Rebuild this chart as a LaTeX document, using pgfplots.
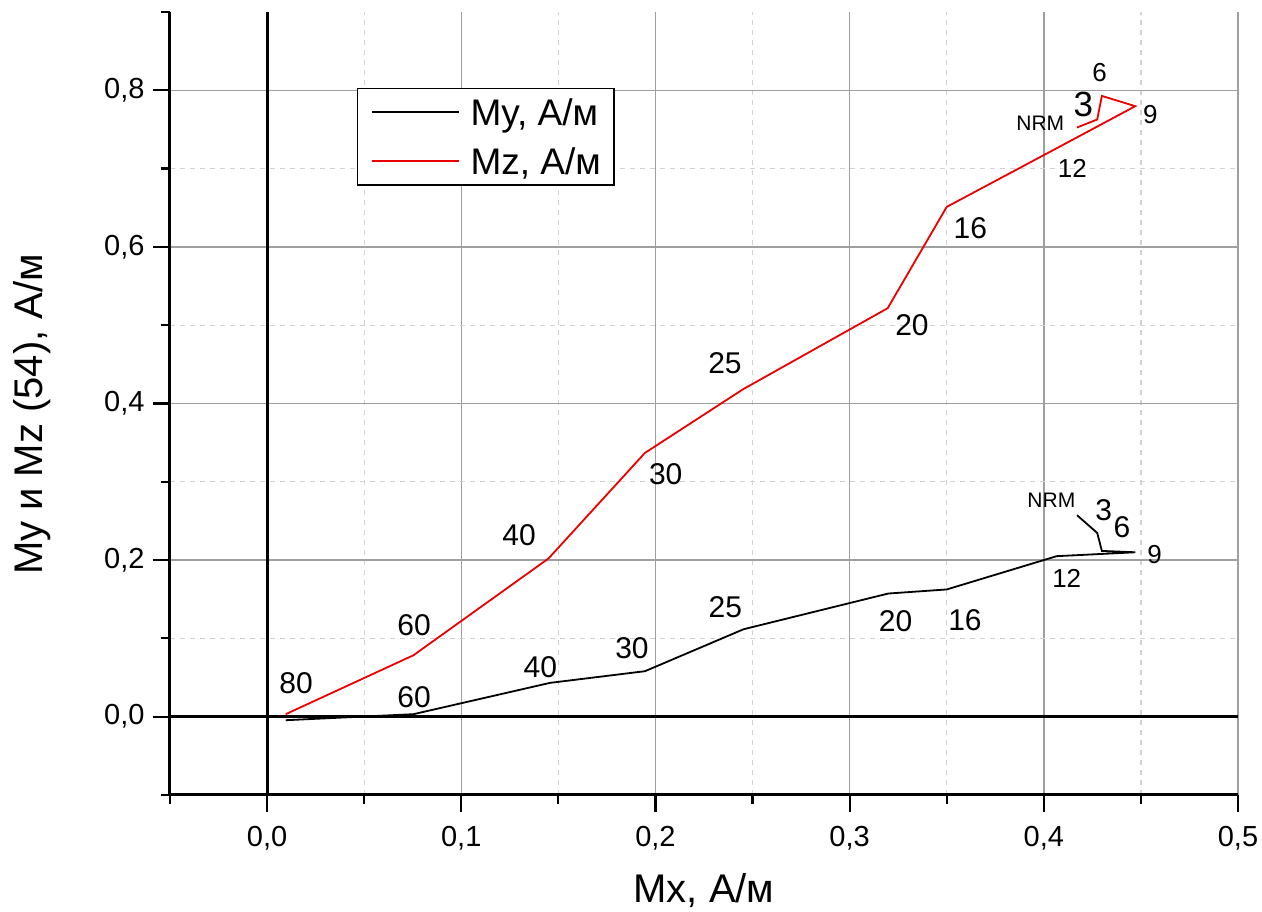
\documentclass[border=0pt]{standalone}
\usepackage{fontspec}
\setmainfont{Liberation Sans}
\usepackage{pgfplots}
\pgfplotsset{compat=1.18}
\newcommand{\Lf}{\fontsize{15}{18}\selectfont}
\newcommand{\XLf}{\fontsize{17.5}{20}\selectfont}
\newcommand{\Mf}{\fontsize{13}{16}\selectfont}
\newcommand{\Sf}{\fontsize{10.5}{13}\selectfont}
\newcommand{\tickf}{\fontsize{14.5}{17}\selectfont}
\newcommand{\labf}{\fontsize{20}{24}\selectfont}
\newcommand{\legf}{\fontsize{18.5}{22}\selectfont}
\definecolor{mzred}{RGB}{235,0,0}

\pgfplotstableread{
x y
0.4171 0.2573
0.4275 0.2347
0.4299 0.2117
0.4471 0.2100
0.4066 0.2050
0.3500 0.1625
0.3199 0.1573
0.2454 0.1117
0.1946 0.0581
0.1457 0.0432
0.0754 0.0032
0.0096 -0.0045
}\datamy

\pgfplotstableread{
x y
0.4171 0.7525
0.4275 0.7627
0.4299 0.7928
0.4471 0.7797
0.4080 0.7278
0.3500 0.6511
0.3196 0.5217
0.2452 0.4183
0.1946 0.3369
0.1449 0.2020
0.0754 0.0785
0.0096 0.0032
}\datamz

\begin{document}
\begin{tikzpicture}
\begin{axis}[
  scale only axis, width=534pt, height=391.5pt,
  xmin=-0.05, xmax=0.5, ymin=-0.1, ymax=0.9,
  clip=false,
  axis x line*=bottom, axis y line*=left,
  axis line style={line width=1.5pt, -},
  tick pos=left,
  tick align=outside,
  major tick length=8.5pt, minor tick length=4.5pt,
  tick style={black, line width=1.1pt},
  xtick={0,0.1,0.2,0.3,0.4,0.5},
  minor xtick={-0.05,0.05,0.15,0.25,0.35,0.45},
  ytick={0,0.2,0.4,0.6,0.8},
  minor ytick={-0.1,0.1,0.3,0.5,0.7},
  extra y ticks={0.9}, extra y tick labels={},
  extra y tick style={grid=none, major tick length=4.5pt},
  grid=both,
  major grid style={gray!75, line width=0.7pt},
  minor grid style={gray!35, line width=0.6pt, dash pattern=on 2.5pt off 2.5pt},
  /pgf/number format/fixed,
  /pgf/number format/fixed zerofill,
  /pgf/number format/precision=1,
  /pgf/number format/use comma,
  /pgf/number format/assume math mode=true,
  tick label style={font=\tickf},
  xticklabel style={yshift=-3.7pt},
  yticklabel style={xshift=-0.7pt},
  xlabel={Mx, A/м},
  ylabel={My и Mz (54), A/м},
  xlabel style={at={(axis description cs:0.5,-0.1)}, anchor=north, inner sep=0pt, font=\labf},
  ylabel style={at={(axis description cs:-0.147,0.486)}, anchor=north, rotate=0, inner sep=0pt, font=\labf},
  legend style={at={(axis description cs:0.1751,0.9029)}, anchor=north west,
    draw=black, line width=0.7pt, fill=white,
    inner xsep=6.5pt, inner ysep=5.2pt, row sep=11.3pt, font=\legf,
    nodes={inner sep=0pt, text height=13.2pt, text depth=0pt},
    /tikz/every odd column/.append style={column sep=5.3pt}},
  legend cell align=left,
  legend image code/.code={\draw[#1] (0pt,0pt) -- (43.75pt,0pt);},
]
\addplot[black, line width=1.5pt, forget plot] coordinates {(0,-0.1) (0,0.9)};
\addplot[black, line width=1.5pt, forget plot] coordinates {(-0.05,0) (0.5,0)};

\addplot[black, line width=0.9pt, sharp plot] table[x=x,y=y] {\datamy};
\addlegendentry{My, A/м}
\addplot[mzred, line width=0.9pt, sharp plot] table[x=x,y=y] {\datamz};
\addlegendentry{Mz, A/м}

% labels Mz
\node[font=\Lf, inner sep=0pt] at (axis cs:0.0149,0.0434) {80};
\node[font=\Lf, inner sep=0pt] at (axis cs:0.0757,0.1169) {60};
\node[font=\Lf, inner sep=0pt] at (axis cs:0.1298,0.2318) {40};
\node[font=\Lf, inner sep=0pt] at (axis cs:0.2053,0.3097) {30};
\node[font=\Lf, inner sep=0pt] at (axis cs:0.2358,0.4521) {25};
\node[font=\Lf, inner sep=0pt] at (axis cs:0.3321,0.5000) {20};
\node[font=\Lf, inner sep=0pt] at (axis cs:0.3622,0.6245) {16};
\node[font=\Mf, inner sep=0pt] at (axis cs:0.4147,0.7005) {12};
\node[font=\Mf, inner sep=0pt] at (axis cs:0.4549,0.7695) {9};
\node[font=\Mf, inner sep=0pt] at (axis cs:0.4287,0.8231) {6};
\node[font=\XLf, inner sep=0pt] at (axis cs:0.4204,0.7822) {3};
\node[font=\Sf, inner sep=0pt] at (axis cs:0.3982,0.7580) {NRM};
% labels My
\node[font=\Lf, inner sep=0pt] at (axis cs:0.0757,0.0249) {60};
\node[font=\Lf, inner sep=0pt] at (axis cs:0.1407,0.0632) {40};
\node[font=\Lf, inner sep=0pt] at (axis cs:0.1879,0.0875) {30};
\node[font=\Lf, inner sep=0pt] at (axis cs:0.2360,0.1398) {25};
\node[font=\Lf, inner sep=0pt] at (axis cs:0.3237,0.1226) {20};
\node[font=\Lf, inner sep=0pt] at (axis cs:0.3594,0.1236) {16};
\node[font=\Mf, inner sep=0pt] at (axis cs:0.4118,0.1765) {12};
\node[font=\Mf, inner sep=0pt] at (axis cs:0.4570,0.2075) {9};
\node[font=\Lf, inner sep=0pt] at (axis cs:0.4403,0.2424) {6};
\node[font=\Lf, inner sep=0pt] at (axis cs:0.4309,0.2641) {3};
\node[font=\Sf, inner sep=0pt] at (axis cs:0.4039,0.2769) {NRM};
\end{axis}
\pgfresetboundingbox
\path ([shift={(-85pt,-58.5pt)}]current axis.south west) rectangle ([shift={(12pt,6pt)}]current axis.north east);
\end{tikzpicture}
\end{document}
